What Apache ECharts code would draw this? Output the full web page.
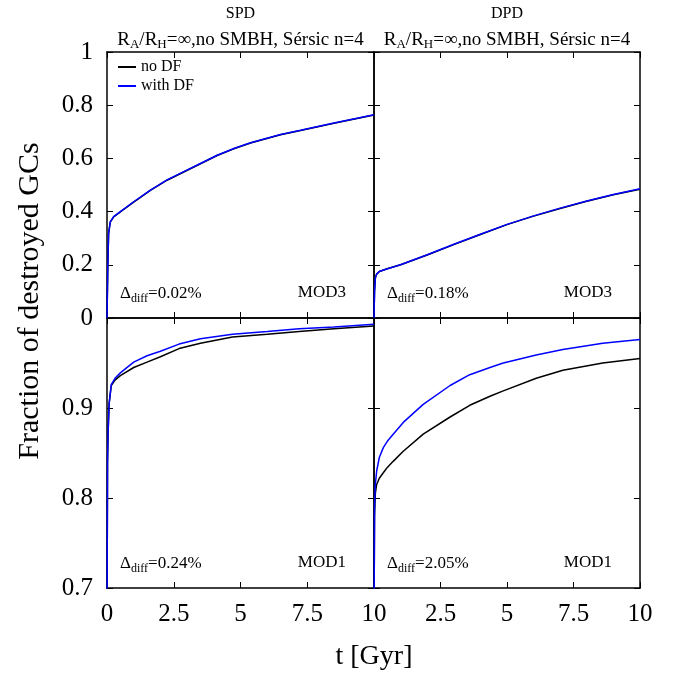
<!DOCTYPE html>
<html>
<head>
<meta charset="utf-8">
<script src="https://cdn.jsdelivr.net/npm/echarts@6/dist/echarts.min.js"></script>
<style>html,body{margin:0;padding:0;background:#fff}#c{width:675px;height:675px}</style>
</head>
<body>
<div id="c"></div>
<script>
// ---- data ----
const tSPD3 = [0, 0.03, 0.06, 0.125, 0.25, 0.5, 1, 1.625, 2.25, 2.875, 3.5, 4.125, 4.75, 5.375, 6.5, 7.25, 8.5, 10];
const spd3NoDF = [0, 0.193, 0.318, 0.361, 0.380, 0.399, 0.436, 0.480, 0.518, 0.549, 0.580, 0.611, 0.636, 0.658, 0.689, 0.705, 0.732, 0.763];
const spd3DF   = [0, 0.194, 0.319, 0.362, 0.381, 0.400, 0.437, 0.481, 0.519, 0.550, 0.581, 0.612, 0.637, 0.659, 0.690, 0.706, 0.733, 0.764];

const tDPD3 = [0, 0.02, 0.05, 0.1, 0.2, 0.5, 1, 2, 3, 4, 5, 6, 7, 8, 9, 10];
const dpd3NoDF = [0, 0.1, 0.15, 0.165, 0.175, 0.185, 0.2, 0.237, 0.276, 0.314, 0.351, 0.383, 0.412, 0.439, 0.463, 0.484];
const dpd3DF   = [0, 0.1, 0.15, 0.165, 0.175, 0.185, 0.2, 0.238, 0.277, 0.315, 0.352, 0.384, 0.413, 0.44, 0.464, 0.486];

const tSPD1 = [0, 0.02, 0.04, 0.08, 0.16, 0.3, 0.5, 1, 1.5, 2, 2.7, 3.5, 4.7, 6, 7.2, 8.5, 10];
const spd1NoDF = [0.65, 0.84, 0.872, 0.905, 0.925, 0.931, 0.936, 0.945, 0.951, 0.957, 0.966, 0.972, 0.979, 0.982, 0.985, 0.988, 0.991];
const spd1DF   = [0.65, 0.84, 0.872, 0.905, 0.926, 0.933, 0.939, 0.951, 0.958, 0.963, 0.971, 0.977, 0.982, 0.985, 0.988, 0.990, 0.993];

const tDPD1 = [0, 0.02, 0.05, 0.1, 0.2, 0.35, 0.5, 0.73, 1.1, 1.85, 2.86, 3.6, 4.36, 4.86, 6.1, 7.1, 8.6, 10];
const dpd1NoDF = [0.65, 0.78, 0.805, 0.815, 0.822, 0.828, 0.834, 0.841, 0.852, 0.871, 0.89, 0.903, 0.913, 0.919, 0.933, 0.942, 0.95, 0.955];
const dpd1DF   = [0.65, 0.79, 0.815, 0.83, 0.845, 0.856, 0.863, 0.871, 0.884, 0.904, 0.925, 0.937, 0.945, 0.95, 0.959, 0.965, 0.972, 0.976];

const xTicks = [0, 2.5, 5, 7.5, 10];
const panelTitles = ['SPD', 'DPD'];
const diffLabels = ['0.02%', '0.18%', '0.24%', '2.05%'];
const modLabels = ['MOD3', 'MOD3', 'MOD1', 'MOD1'];
const seriesNames = ['no DF', 'with DF'];

// ---- layout ----
const FONT = '"Liberation Serif","Times New Roman",serif';
const colL = 107, colW = 267, colR = 374, colRW = 266;
const rowT = 52, rowTH = 266, rowB = 318, rowBH = 270;
const grids = [
  {left: colL, top: rowT, width: colW, height: rowTH},
  {left: colR, top: rowT, width: colRW, height: rowTH},
  {left: colL, top: rowB, width: colW, height: rowBH},
  {left: colR, top: rowB, width: colRW, height: rowBH}
];
const panels = [
  {t: tSPD3, a: spd3NoDF, b: spd3DF, ymin: 0, ymax: 1, yint: 0.2},
  {t: tDPD3, a: dpd3NoDF, b: dpd3DF, ymin: 0, ymax: 1, yint: 0.2},
  {t: tSPD1, a: spd1NoDF, b: spd1DF, ymin: 0.7, ymax: 1, yint: 0.1},
  {t: tDPD1, a: dpd1NoDF, b: dpd1DF, ymin: 0.7, ymax: 1, yint: 0.1}
];

const lineStyle = {color: '#000', width: 1.5};
const axisLine = {show: true, onZero: false, lineStyle};
const tick = {show: true, inside: true, length: 6, lineStyle: {color: '#000', width: 1}};
const xAxes = [], yAxes = [], series = [];
panels.forEach((p, g) => {
  const bottomRow = g >= 2, leftCol = g % 2 === 0;
  xAxes.push({
    gridIndex: g, type: 'value', min: xTicks[0], max: xTicks[xTicks.length - 1], interval: 2.5, position: 'bottom',
    axisLine, axisTick: tick, splitLine: {show: false},
    axisLabel: {show: bottomRow, showMinLabel: leftCol, fontFamily: FONT, fontSize: 25, color: '#000', margin: 14,
      formatter: v => String(v)}
  });
  xAxes.push({
    gridIndex: g, type: 'value', min: xTicks[0], max: xTicks[xTicks.length - 1], interval: 2.5, position: 'top',
    axisLine, axisTick: tick, splitLine: {show: false}, axisLabel: {show: false}
  });
  yAxes.push({
    gridIndex: g, type: 'value', min: p.ymin, max: p.ymax, interval: p.yint, position: 'left',
    axisLine, axisTick: tick, splitLine: {show: false},
    axisLabel: {show: leftCol, showMaxLabel: !bottomRow, fontFamily: FONT, fontSize: 25, color: '#000', margin: 14,
      formatter: v => String(Math.round(v * 10) / 10)}
  });
  yAxes.push({
    gridIndex: g, type: 'value', min: p.ymin, max: p.ymax, interval: p.yint, position: 'right',
    axisLine, axisTick: tick, splitLine: {show: false}, axisLabel: {show: false}
  });
  [[p.a, '#000000', seriesNames[0]], [p.b, '#0000ff', seriesNames[1]]].forEach(([vals, col, name]) => {
    series.push({
      type: 'line', name, xAxisIndex: 2 * g, yAxisIndex: 2 * g, showSymbol: false, symbol: 'none',
      clip: true, animation: false, color: col,
      lineStyle: {color: col, width: 1.5},
      data: p.t.map((t, i) => [t, vals[i]])
    });
  });
});

const richSub = {
  n: {fontFamily: FONT, fontSize: 19, color: '#000'},
  s: {fontFamily: FONT, fontSize: 13, color: '#000', padding: [9, 0, 0, 0]}
};
const rich = {
  n: {fontFamily: FONT, fontSize: 17, color: '#000'},
  s: {fontFamily: FONT, fontSize: 12, color: '#000', padding: [9, 0, 0, 0]}
};
const graphics = [];
panelTitles.forEach((tt, i) => {
  const cx = grids[i].left + grids[i].width / 2;
  graphics.push({type: 'text', x: cx, y: 14, style: {text: tt, fontFamily: FONT, fontSize: 16, fill: '#000', align: 'center', verticalAlign: 'middle'}});
  graphics.push({type: 'text', x: cx, y: 40, style: {
    text: '{n|R}{s|A}{n|/R}{s|H}{n|=∞,no SMBH, Sérsic n=4}', rich: richSub, align: 'center', verticalAlign: 'middle'}});
});
grids.forEach((gr, i) => {
  const y = gr.top + gr.height - 24;
  graphics.push({type: 'text', x: gr.left + 13, y, style: {
    text: '{n|Δ}{s|diff}{n|=' + diffLabels[i] + '}', rich, align: 'left', verticalAlign: 'middle'}});
  graphics.push({type: 'text', x: gr.left + gr.width - 28, y: y - 1, style: {
    text: modLabels[i], fontFamily: FONT, fontSize: 17, fill: '#000', align: 'right', verticalAlign: 'middle'}});
});
graphics.push({type: 'text', x: 374, y: 657, style: {text: 't [Gyr]', fontFamily: FONT, fontSize: 28, fill: '#000', align: 'center', verticalAlign: 'middle'}});
graphics.push({type: 'text', x: 30, y: 301, rotation: Math.PI / 2, style: {text: 'Fraction of destroyed GCs', fontFamily: FONT, fontSize: 30, fill: '#000', align: 'center', verticalAlign: 'middle'}});

const chart = echarts.init(document.getElementById('c'), null, {renderer: 'canvas'});
chart.setOption({
  animation: false,
  backgroundColor: '#fff',
  grid: grids,
  xAxis: xAxes,
  yAxis: yAxes,
  series,
  legend: {
    data: seriesNames, orient: 'vertical', left: 113, top: 54, itemWidth: 18, itemHeight: 10, itemGap: 3,
    icon: 'path://M0,4 L18,4 L18,6 L0,6 Z',
    textStyle: {fontFamily: FONT, fontSize: 16, color: '#000'}
  },
  graphic: graphics
});
</script>
</body>
</html>
